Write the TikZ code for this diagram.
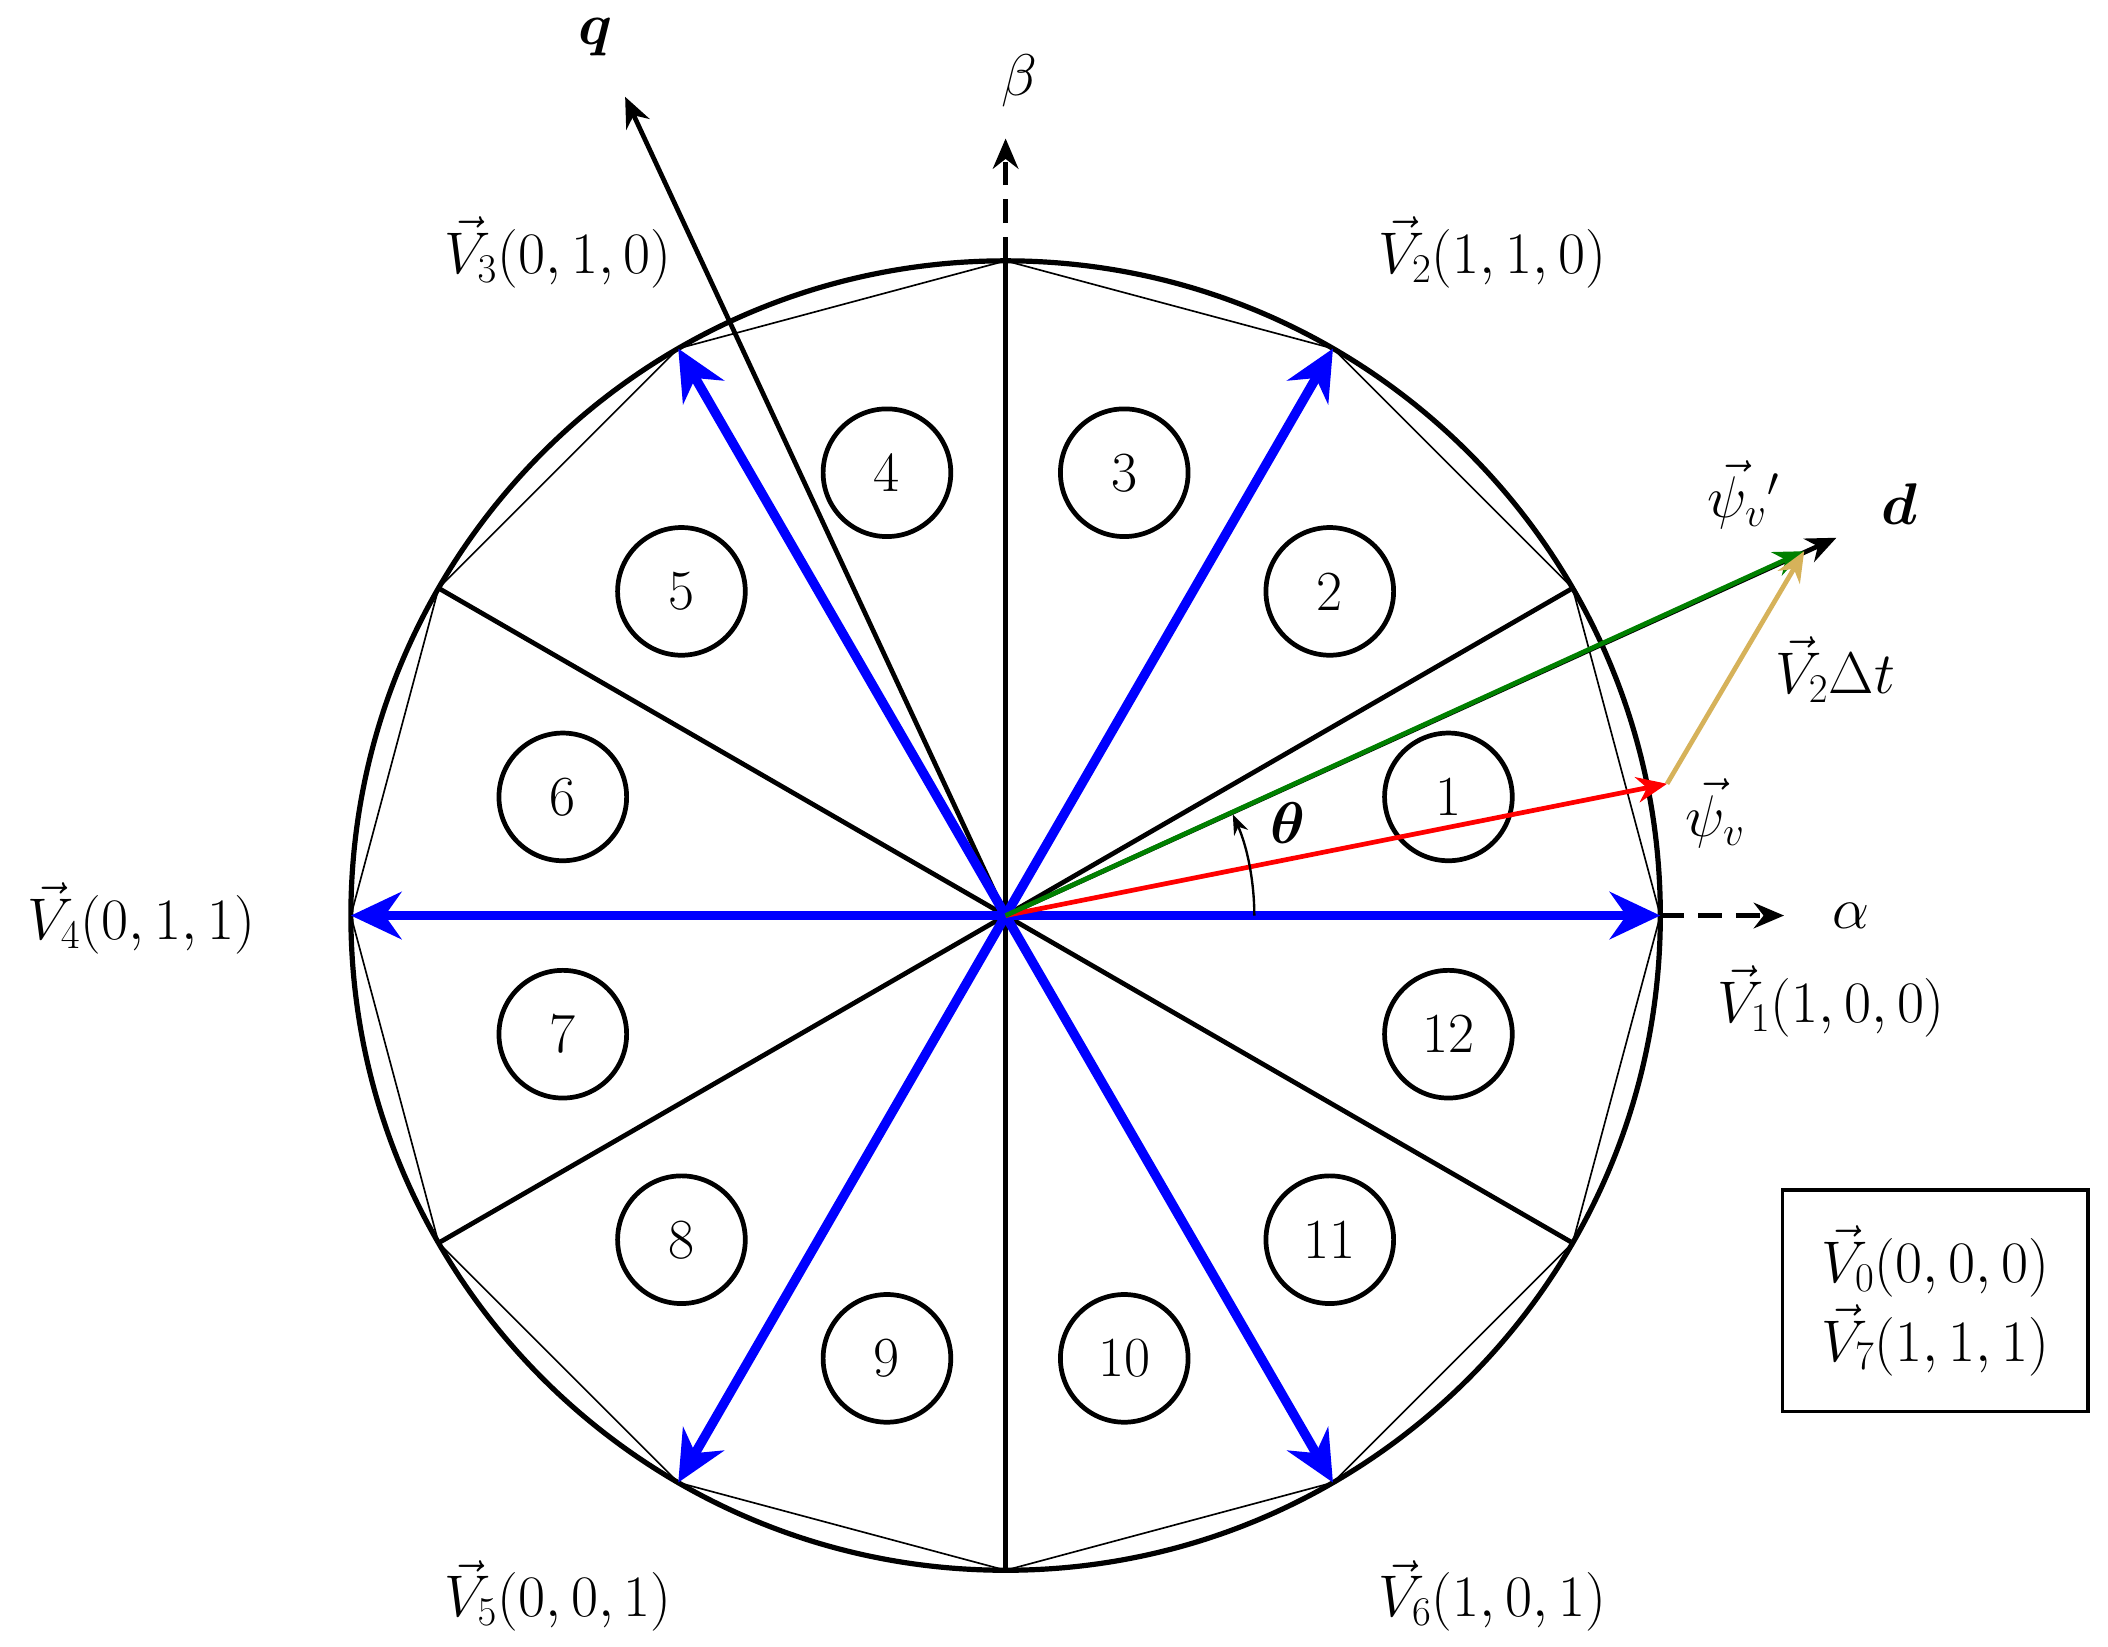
\documentclass[tikz,border=0pt]{standalone}
\usepackage{bm}
\usetikzlibrary{arrows.meta,calc}
\begin{document}
\begin{tikzpicture}[x=0.02cm,y=-0.02cm,
  lbl/.style={font=\fontsize{26}{30}\selectfont},
  num/.style={draw,circle,line width=2pt,minimum size=1.9cm,inner sep=0pt,font=\fontsize{24}{28}\selectfont},
  blue arr/.style={blue,line width=4pt,-{Stealth[length=0.75cm,width=0.7cm]}},
  thin arr/.style={line width=2pt,-{Stealth[length=0.45cm,width=0.38cm]}}]
\useasboundingbox (0,0) rectangle (1568,1225);
\coordinate (O) at (748,681);
% dodecagon
\draw[line width=0.7pt] ($(O)+(0:487)$) \foreach \a in {30,60,...,330}{ -- ($(O)+(\a:487)$)} -- cycle;
\draw[line width=2.2pt] (O) circle[radius=487*0.02cm];
\foreach \a in {30,90,...,330}{\draw[line width=2pt] (O) -- +(\a:487);}
\foreach \k in {1,...,12}{\node[num] (n\k) at ($(O)+({-15-30*(\k-1)}:341)$) {\k};}
% axes
\coordinate (bs) at (748,194); \coordinate (be) at (748,103);
\coordinate (as) at (1235,681); \coordinate (ae) at (1327,681);
\draw[thin arr,dashed,dash pattern=on 10pt off 6pt] (bs) -- (be);
\draw[thin arr,dashed,dash pattern=on 10pt off 6pt] (as) -- (ae);
\coordinate (qe) at (465,72); \coordinate (de) at (1366,400);
\draw[thin arr] (O) -- (qe);
\draw[thin arr] (O) -- (de);
% blue vectors
\foreach \a in {0,60,...,300}{\draw[blue arr] (O) -- +(\a:487);}
% flux
\coordinate (pv) at (1240,583); \coordinate (pn) at (1342,410);
\draw[thin arr,red] (O) -- (pv);
\draw[thin arr,green!50!black] (O) -- (pn);
\draw[thin arr,color={rgb,255:red,214;green,178;blue,90}] (pv) -- (pn);
\draw[line width=1pt,-{Stealth[length=0.3cm]}] ($(O)+(0:185)$) arc[start angle=0,end angle=24,radius=185*0.02cm];
% labels
\node[lbl] at (958,612) {$\bm{\theta}$};
\node[lbl] at (443,28) {$\bm{q}$};
\node[lbl] at (758,60) {$\beta$};
\node[lbl] at (1413,375) {$\bm{d}$};
\node[lbl] at (1377,681) {$\alpha$};
\node[lbl] at (1297,368) {$\vec{\psi}_v{}'$};
\node[lbl] at (1365,498) {$\vec{V}_2\Delta t$};
\node[lbl] at (1276,605) {$\vec{\psi}_v$};
\node[lbl] at (415,188) {$\vec{V}_3(0,1,0)$};
\node[lbl] at (1110,188) {$\vec{V}_2(1,1,0)$};
\node[lbl] at (105,683) {$\vec{V}_4(0,1,1)$};
\node[lbl] at (1362,745) {$\vec{V}_1(1,0,0)$};
\node[lbl] at (415,1187) {$\vec{V}_5(0,0,1)$};
\node[lbl] at (1110,1187) {$\vec{V}_6(1,0,1)$};
\node[lbl,draw,line width=1.5pt,align=center,minimum width=227*0.02cm,minimum height=165*0.02cm] (box) at (1439.5,967.5) {$\vec{V}_0(0,0,0)$\\[2pt]$\vec{V}_7(1,1,1)$};
\end{tikzpicture}
\end{document}
